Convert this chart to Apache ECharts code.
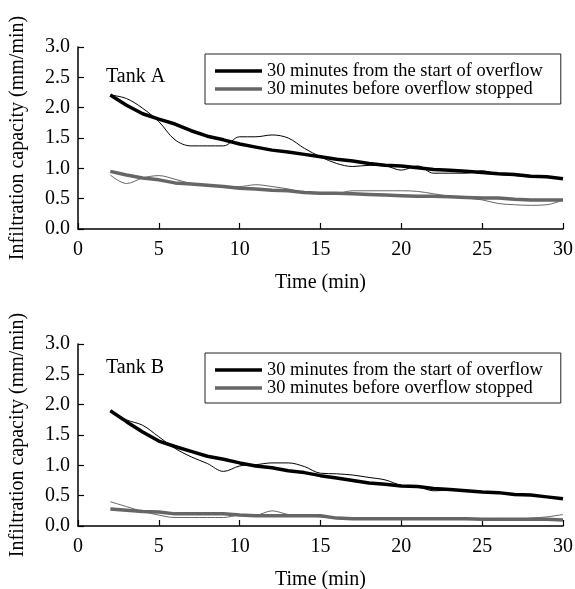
<!DOCTYPE html>
<html>
<head>
<meta charset="utf-8">
<script src="https://cdn.jsdelivr.net/npm/echarts@6/dist/echarts.min.js"></script>
<style>html,body{margin:0;padding:0;background:#fff}#c{width:575px;height:589px}</style>
</head>
<body>
<div id="c"></div>
<script>
var times = [2,3,4,5,6,7,8,9,10,11,12,13,14,15,16,17,18,19,20,21,22,23,24,25,26,27,28,29,30];
var xTicks = ['0','5','10','15','20','25','30'];
var yTicks = ['0.0','0.5','1.0','1.5','2.0','2.5','3.0'];
var legendNames = ['30 minutes from the start of overflow','30 minutes before overflow stopped'];

// Tank A
var aStartFit = [2.21,2.04,1.90,1.81,1.73,1.62,1.53,1.47,1.40,1.35,1.30,1.27,1.23,1.19,1.15,1.12,1.08,1.05,1.04,1.01,0.98,0.97,0.95,0.93,0.91,0.90,0.87,0.86,0.83];
var aStartObs = [2.21,2.15,1.99,1.77,1.47,1.37,1.37,1.37,1.52,1.52,1.55,1.50,1.33,1.19,1.08,1.03,1.05,1.04,0.97,1.04,0.92,0.92,0.92,0.96,0.90,0.88,0.86,0.85,0.83];
var aStopFit = [0.95,0.89,0.84,0.81,0.76,0.74,0.72,0.70,0.67,0.66,0.64,0.63,0.60,0.59,0.59,0.58,0.57,0.56,0.55,0.54,0.54,0.53,0.52,0.51,0.51,0.49,0.48,0.48,0.48];
var aStopObs = [0.89,0.75,0.84,0.88,0.82,0.75,0.71,0.70,0.70,0.73,0.70,0.66,0.60,0.59,0.59,0.63,0.63,0.63,0.63,0.62,0.58,0.54,0.51,0.48,0.42,0.40,0.39,0.40,0.48];

// Tank B
var bStartFit = [1.90,1.72,1.55,1.40,1.31,1.23,1.15,1.10,1.04,0.99,0.96,0.91,0.88,0.83,0.79,0.75,0.71,0.69,0.66,0.65,0.62,0.60,0.58,0.56,0.55,0.52,0.51,0.48,0.45];
var bStartObs = [1.90,1.75,1.66,1.47,1.28,1.14,1.03,0.90,0.99,1.01,1.04,1.04,0.98,0.87,0.86,0.84,0.80,0.76,0.67,0.65,0.58,0.59,0.58,0.56,0.55,0.52,0.51,0.48,0.46];
var bStopFit = [0.28,0.26,0.24,0.23,0.20,0.20,0.20,0.20,0.18,0.17,0.17,0.17,0.17,0.17,0.13,0.12,0.12,0.12,0.12,0.12,0.12,0.12,0.12,0.11,0.11,0.11,0.11,0.11,0.10];
var bStopObs = [0.40,0.32,0.24,0.18,0.14,0.14,0.14,0.14,0.18,0.18,0.25,0.19,0.17,0.15,0.13,0.12,0.12,0.12,0.12,0.12,0.12,0.12,0.12,0.12,0.12,0.11,0.13,0.15,0.19];

function pairs(vals){ return times.map(function(t,i){ return [t, vals[i]]; }); }

var FONT = '"Liberation Serif","DejaVu Serif",serif';
var BLACK = '#000000', GRAY = '#666666';
var AXF = 20;

function xAxis(gi){
  return {
    gridIndex: gi, type: 'value', min: 0, max: 30, interval: 5,
    name: 'Time (min)', nameLocation: 'middle', nameGap: 44,
    nameTextStyle: {fontFamily: FONT, fontSize: AXF, color: '#000'},
    axisLine: {show: true, lineStyle: {color: '#000', width: 1.5}},
    axisTick: {show: true, inside: true, length: 6, lineStyle: {color: '#000', width: 1.2}},
    axisLabel: {margin: 11, fontFamily: FONT, fontSize: AXF, color: '#000',
      formatter: function(v){ return xTicks[Math.round(v/5)]; }},
    splitLine: {show: false}
  };
}
function yAxis(gi){
  return {
    gridIndex: gi, type: 'value', min: 0, max: 3, interval: 0.5,
    name: 'Infiltration capacity (mm/min)', nameLocation: 'middle', nameGap: 50,
    nameTextStyle: {fontFamily: FONT, fontSize: AXF, color: '#000'},
    axisLine: {show: true, lineStyle: {color: '#000', width: 1.5}},
    axisTick: {show: true, inside: true, length: 6, lineStyle: {color: '#000', width: 1.2}},
    axisLabel: {margin: 8, fontFamily: FONT, fontSize: AXF, color: '#000',
      formatter: function(v){ return yTicks[Math.round(v/0.5)]; }},
    splitLine: {show: false}
  };
}
function line(name, gi, vals, color, width, smooth){
  return {
    name: name, type: 'line', xAxisIndex: gi, yAxisIndex: gi,
    data: pairs(vals), showSymbol: false, symbol: 'none', smooth: smooth ? 0.35 : false,
    lineStyle: {color: color, width: width}, itemStyle: {color: color},
    z: width > 2 ? 3 : 4, silent: true, animation: false
  };
}
function legend(top){
  return {
    left: 205, top: top, orient: 'vertical', data: legendNames,
    icon: 'rect', itemWidth: 47, itemHeight: 3.5, itemGap: 0,
    padding: [8, 18, 6, 10], borderColor: '#222', borderWidth: 1,
    textStyle: {fontFamily: FONT, fontSize: 18.4, lineHeight: 18, color: '#000', padding: [0,0,0,0]},
    selectedMode: false
  };
}

var chart = echarts.init(document.getElementById('c'), null, {renderer: 'canvas'});
chart.setOption({
  animation: false,
  backgroundColor: '#fff',
  grid: [
    {left: 78, top: 47, width: 485, height: 182, outerBoundsMode: 'none', containLabel: false},
    {left: 78, top: 344, width: 485, height: 182, outerBoundsMode: 'none', containLabel: false}
  ],
  xAxis: [xAxis(0), xAxis(1)],
  yAxis: [yAxis(0), yAxis(1)],
  legend: [legend(54), legend(353)],
  title: [
    {text: 'Tank A', left: 106, top: 67, padding: 0, textStyle: {fontFamily: FONT, fontSize: 20, fontWeight: 'normal', color: '#000'}},
    {text: 'Tank B', left: 106, top: 358, padding: 0, textStyle: {fontFamily: FONT, fontSize: 20, fontWeight: 'normal', color: '#000'}}
  ],
  series: [
    line(legendNames[0], 0, aStartFit, BLACK, 3.5, false),
    line('A start observed', 0, aStartObs, BLACK, 1, true),
    line(legendNames[1], 0, aStopFit, GRAY, 3.5, false),
    line('A stop observed', 0, aStopObs, GRAY, 1, true),
    line(legendNames[0], 1, bStartFit, BLACK, 3.5, false),
    line('B start observed', 1, bStartObs, BLACK, 1, true),
    line(legendNames[1], 1, bStopFit, GRAY, 3.5, false),
    line('B stop observed', 1, bStopObs, GRAY, 1, true)
  ]
});
</script>
</body>
</html>
